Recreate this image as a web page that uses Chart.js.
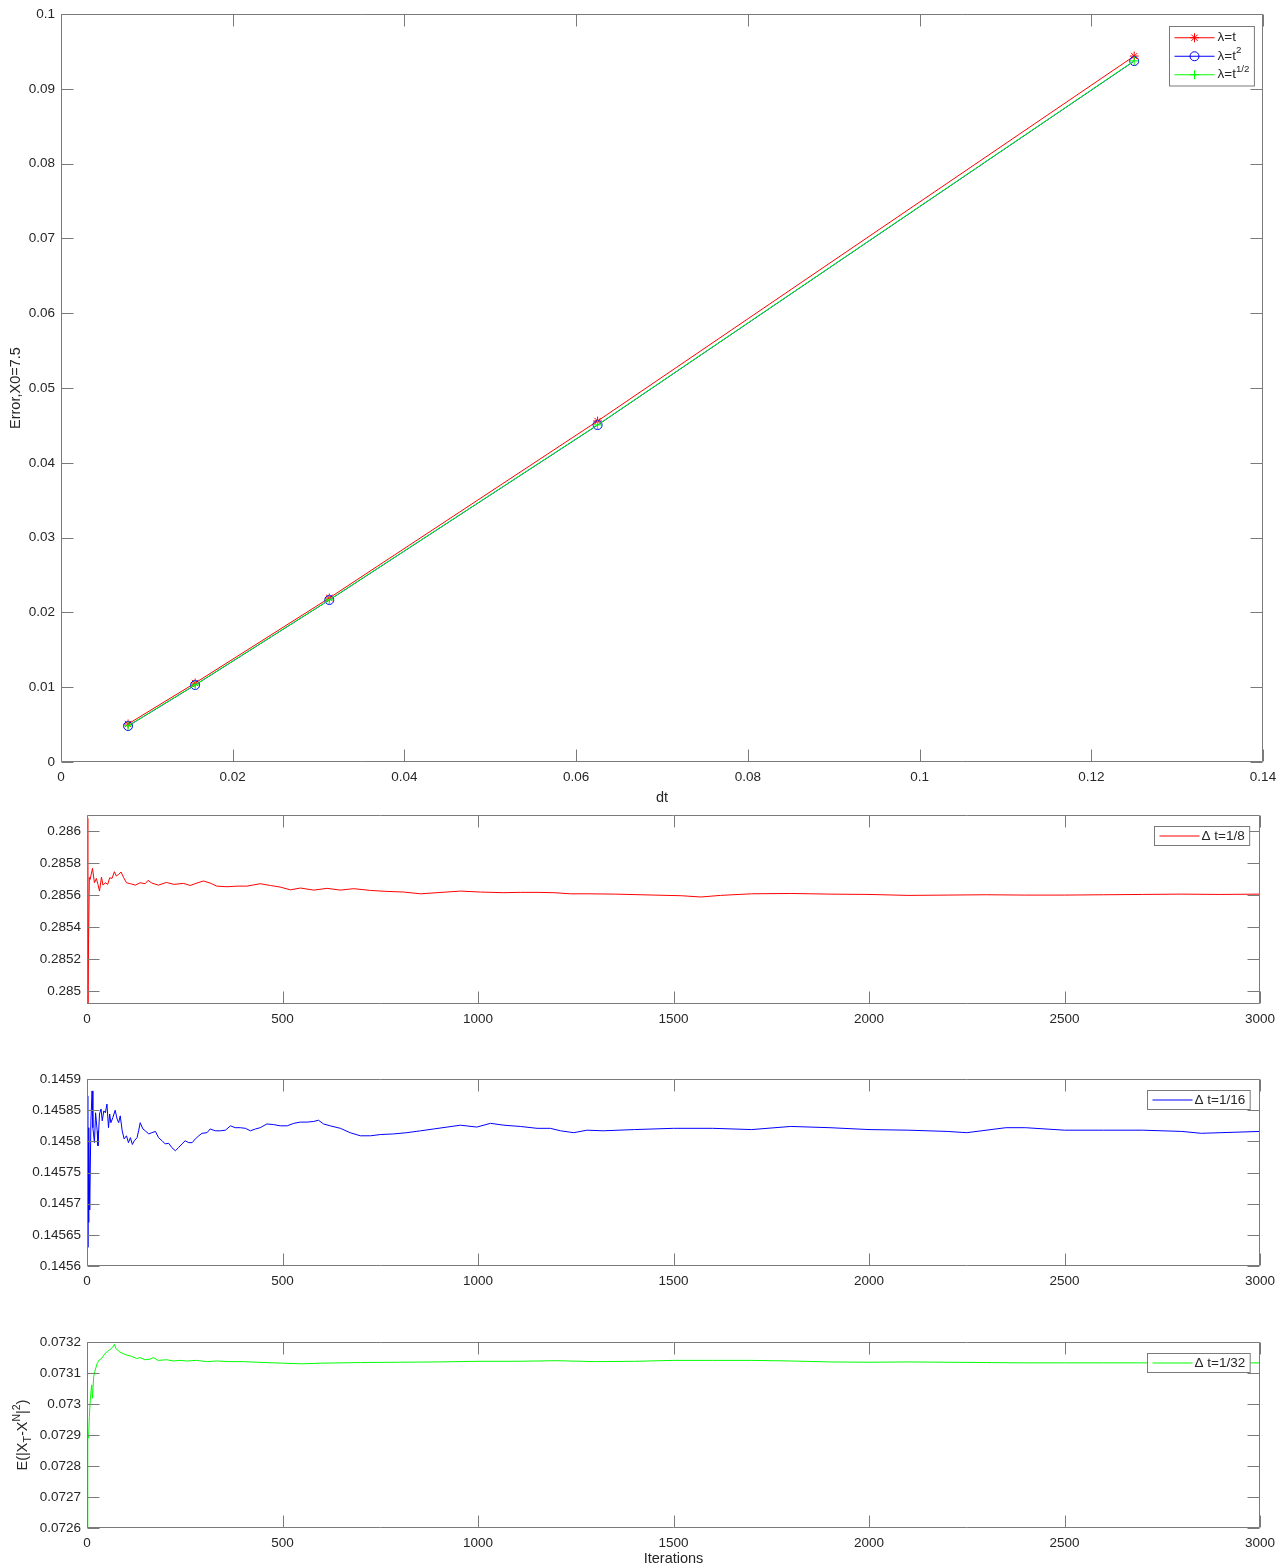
<!DOCTYPE html>
<html>
<head>
<meta charset="utf-8">
<script src="https://cdn.jsdelivr.net/npm/chart.js@4.4.0/dist/chart.umd.min.js"></script>
<style>
  body { margin: 0; background: #fff; width: 1288px; height: 1568px; position: relative; overflow: hidden; }
  canvas { position: absolute; left: 0; }
</style>
</head>
<body>
<canvas id="errChart" width="1288" height="812" style="top:0px"></canvas>
<canvas id="run8" width="1288" height="230" style="top:800px"></canvas>
<canvas id="run16" width="1288" height="230" style="top:1065px"></canvas>
<canvas id="run32" width="1288" height="240" style="top:1328px"></canvas>
<script>
// ---- top chart: error vs dt ----
const dtValues = [0.0078125, 0.015625, 0.03125, 0.0625, 0.125];
const errLinear = [0.00508, 0.01056, 0.02193, 0.04559, 0.09439];   // lambda = t
const errSquare = [0.00481, 0.01029, 0.02166, 0.04505, 0.09372];   // lambda = t^2
const errSqrt   = [0.00483, 0.01031, 0.02168, 0.04508, 0.09375];   // lambda = t^(1/2)
const dtTicks = [0, 0.02, 0.04, 0.06, 0.08, 0.1, 0.12, 0.14];
const dtTickLabels = ['0', '0.02', '0.04', '0.06', '0.08', '0.1', '0.12', '0.14'];
const errTicks = [0, 0.01, 0.02, 0.03, 0.04, 0.05, 0.06, 0.07, 0.08, 0.09, 0.1];
const errTickLabels = ['0', '0.01', '0.02', '0.03', '0.04', '0.05', '0.06', '0.07', '0.08', '0.09', '0.1'];

// ---- running estimates, dt = 1/8 ----
const iter8 = [1, 2, 4, 6, 8, 14, 19, 24, 28, 32, 37, 41, 47, 53, 58, 64, 70, 75, 81, 87, 94, 101,
  111, 124, 136, 149, 156, 166, 183, 203, 222, 247, 264, 281, 298, 315, 332, 358, 384, 409, 443,
  469, 494, 520, 546, 580, 614, 648, 682, 725, 767, 810, 853, 895, 955, 1006, 1066, 1108, 1151,
  1194, 1236, 1279, 1350, 1450, 1520, 1570, 1620, 1700, 1800, 1900, 2000, 2100, 2200, 2300, 2400,
  2500, 2600, 2700, 2800, 2900, 3000];
const err8 = [0.28608, 0.28485, 0.28533, 0.28571, 0.285698, 0.285767, 0.285677, 0.285704, 0.285667,
  0.285625, 0.285712, 0.285662, 0.285677, 0.285667, 0.285708, 0.285704, 0.285746, 0.285719, 0.285729,
  0.285744, 0.285708, 0.285677, 0.285671, 0.285662, 0.285677, 0.285671, 0.285692, 0.285675, 0.285662,
  0.285679, 0.285667, 0.285673, 0.28566, 0.285675, 0.285688, 0.285675, 0.285656, 0.285652, 0.285656,
  0.285656, 0.285671, 0.28566, 0.28565, 0.285633, 0.285644, 0.285631, 0.285642, 0.285631, 0.28564,
  0.285629, 0.285623, 0.285619, 0.285608, 0.285615, 0.285625, 0.285619, 0.285615, 0.285617, 0.285617,
  0.285615, 0.285608, 0.285608, 0.285606, 0.2856, 0.285596, 0.285588, 0.285598, 0.285608, 0.28561,
  0.285606, 0.285604, 0.285598, 0.2856, 0.285602, 0.2856, 0.2856, 0.285602, 0.285604, 0.285606,
  0.285604, 0.285606];
const ticks8 = [0.285, 0.2852, 0.2854, 0.2856, 0.2858, 0.286];
const tickLabels8 = ['0.285', '0.2852', '0.2854', '0.2856', '0.2858', '0.286'];

// ---- running estimates, dt = 1/16 ----
const iter16 = [1, 2, 3, 4, 5, 7, 10, 13, 15, 19, 22, 26, 28, 32, 36, 39, 43, 47, 51, 55, 58, 61, 66,
  72, 77, 81, 85, 90, 95, 101, 106, 111, 116, 121, 128, 132, 136, 143, 149, 158, 166, 175, 183, 192,
  200, 209, 217, 226, 234, 243, 251, 260, 269, 277, 286, 294, 307, 315, 328, 341, 354, 367, 379, 392,
  405, 418, 431, 443, 460, 477, 494, 512, 529, 546, 563, 580, 592, 605, 622, 648, 673, 699, 725, 750,
  784, 818, 853, 887, 921, 955, 997, 1032, 1066, 1108, 1151, 1185, 1211, 1245, 1279, 1320, 1400,
  1500, 1600, 1700, 1800, 1900, 2000, 2100, 2200, 2250, 2350, 2400, 2500, 2600, 2700, 2800, 2850,
  2900, 3000];
const err16 = [0.145873, 0.14563, 0.1458, 0.14567, 0.145822, 0.14569, 0.145833, 0.145881, 0.145822,
  0.145798, 0.145846, 0.145817, 0.145793, 0.145844, 0.145852, 0.145833, 0.145849, 0.145846, 0.14586,
  0.145822, 0.145844, 0.14583, 0.145838, 0.14585, 0.145836, 0.14583, 0.145841, 0.145817, 0.145804,
  0.145809, 0.145798, 0.145806, 0.145795, 0.145801, 0.145806, 0.145817, 0.14583, 0.14582, 0.145817,
  0.145812, 0.145814, 0.145816, 0.145806, 0.145801, 0.145796, 0.145797, 0.14579, 0.145785, 0.14579,
  0.145796, 0.145801, 0.145798, 0.145798, 0.145804, 0.145809, 0.145813, 0.145814, 0.14582, 0.145817,
  0.145817, 0.145818, 0.145825, 0.145822, 0.145822, 0.145821, 0.145817, 0.14582, 0.145822, 0.145828,
  0.145827, 0.145825, 0.145825, 0.145829, 0.145831, 0.145831, 0.145832, 0.145834, 0.145828, 0.145825,
  0.145821, 0.145814, 0.145809, 0.145809, 0.145811, 0.145812, 0.145814, 0.145817, 0.14582, 0.145823,
  0.145826, 0.145823, 0.145829, 0.145826, 0.145824, 0.145821, 0.145821, 0.145817, 0.145814, 0.145818,
  0.145817, 0.145819, 0.145821, 0.145821, 0.145819, 0.145824, 0.145822, 0.145819, 0.145818, 0.145816,
  0.145814, 0.145822, 0.145822, 0.145818, 0.145818, 0.145818, 0.145816, 0.145813, 0.145814, 0.145816];
const ticks16 = [0.1456, 0.14565, 0.1457, 0.14575, 0.1458, 0.14585, 0.1459];
const tickLabels16 = ['0.1456', '0.14565', '0.1457', '0.14575', '0.1458', '0.14585', '0.1459'];

// ---- running estimates, dt = 1/32 ----
const iter32 = [1, 2, 4, 6, 9, 12, 14, 17, 21, 26, 31, 37, 43, 50, 59, 66, 70, 74, 84, 97, 114, 127,
  136, 148, 161, 170, 182, 204, 221, 238, 255, 280, 306, 332, 366, 400, 434, 500, 550, 600, 700, 800,
  900, 1000, 1100, 1200, 1300, 1400, 1500, 1600, 1700, 1800, 1900, 2000, 2100, 2200, 2300, 2400,
  2500, 2600, 2700, 2800, 2900, 3000];
const err32 = [0.07258, 0.0729, 0.07289, 0.07296, 0.073025, 0.073062, 0.073019, 0.073088, 0.07311,
  0.073131, 0.073142, 0.073147, 0.073158, 0.073168, 0.073176, 0.073184, 0.073193, 0.073179, 0.073168,
  0.07316, 0.073154, 0.073147, 0.07315, 0.073143, 0.073145, 0.07315, 0.073141, 0.073143, 0.073139,
  0.073141, 0.073139, 0.073141, 0.073137, 0.073139, 0.073137, 0.073137, 0.073135, 0.073132, 0.07313,
  0.073132, 0.073134, 0.073135, 0.073136, 0.073138, 0.073138, 0.07314, 0.073137, 0.073138, 0.073141,
  0.073141, 0.073141, 0.073139, 0.073136, 0.073135, 0.073136, 0.073135, 0.073134, 0.073133, 0.073133,
  0.073133, 0.073133, 0.073133, 0.073133, 0.073133];
const ticks32 = [0.0726, 0.0727, 0.0728, 0.0729, 0.073, 0.0731, 0.0732];
const tickLabels32 = ['0.0726', '0.0727', '0.0728', '0.0729', '0.073', '0.0731', '0.0732'];

const iterTicks = [0, 500, 1000, 1500, 2000, 2500, 3000];
const iterTickLabels = ['0', '500', '1000', '1500', '2000', '2500', '3000'];

const FONT = '"Liberation Sans", Arial, Helvetica, sans-serif';
const TEXT = '#262626';
const FRAME = '#7a7a7a';
Chart.defaults.font.family = FONT;
Chart.defaults.font.size = 13.5;
Chart.defaults.color = TEXT;
Chart.defaults.animation = false;

// text with sub/superscripts: parts = [[text, 'sup'|'sub'|undefined], ...]
function richWidth(ctx, parts, size) {
  let w = 0;
  parts.forEach(p => {
    ctx.font = (p[1] ? size * 0.72 : size) + 'px ' + FONT;
    w += ctx.measureText(p[0]).width;
  });
  return w;
}
function drawRich(ctx, parts, x, y, size) {
  ctx.textBaseline = 'middle';
  ctx.textAlign = 'left';
  parts.forEach(p => {
    const s = p[1] ? size * 0.72 : size;
    const dy = p[1] === 'sup' ? -size * 0.42 : (p[1] === 'sub' ? size * 0.32 : 0);
    ctx.font = s + 'px ' + FONT;
    ctx.fillText(p[0], x, y + dy);
    x += ctx.measureText(p[0]).width;
  });
}

function drawMarker(ctx, style, x, y, r, color) {
  ctx.save();
  ctx.strokeStyle = color;
  ctx.lineWidth = 1;
  ctx.beginPath();
  if (style === 'circle') {
    ctx.arc(x, y, r, 0, Math.PI * 2);
  } else if (style === 'cross') {
    ctx.moveTo(x - r, y); ctx.lineTo(x + r, y);
    ctx.moveTo(x, y - r); ctx.lineTo(x, y + r);
  } else {
    for (let k = 0; k < 4; k++) {
      const a = k * Math.PI / 4;
      ctx.moveTo(x - r * Math.cos(a), y - r * Math.sin(a));
      ctx.lineTo(x + r * Math.cos(a), y + r * Math.sin(a));
    }
  }
  ctx.stroke();
  ctx.restore();
}

// box around the plot with inward ticks on all four sides
const matlabAxes = {
  id: 'matlabAxes',
  afterDraw(chart, args, opts) {
    const { ctx, chartArea: a, scales } = chart;
    const L = Math.round(a.left) + 0.5, R = Math.round(a.right) - 0.5;
    const T = Math.round(a.top) + 0.5, B = Math.round(a.bottom) - 0.5;
    const len = 12;
    ctx.save();
    ctx.strokeStyle = FRAME;
    ctx.lineWidth = 1;
    ctx.beginPath();
    ctx.rect(L, T, R - L, B - T);
    scales.x.ticks.forEach(t => {
      const px = Math.round(scales.x.getPixelForValue(t.value)) + 0.5;
      ctx.moveTo(px, B); ctx.lineTo(px, B - len);
      ctx.moveTo(px, T); ctx.lineTo(px, T + len);
    });
    scales.y.ticks.forEach(t => {
      const py = Math.round(scales.y.getPixelForValue(t.value)) + 0.5;
      ctx.moveTo(L, py); ctx.lineTo(L + len, py);
      ctx.moveTo(R, py); ctx.lineTo(R - len, py);
    });
    ctx.stroke();

    // legend
    if (opts.legend) {
      const lg = opts.legend;
      const size = 13.5;
      let maxW = 0;
      lg.items.forEach(it => { maxW = Math.max(maxW, richWidth(ctx, it.label, size)); });
      const w = lg.textX + maxW + 5;
      const h = lg.rowH * lg.items.length + lg.padY * 2;
      const bx = Math.round(R - lg.right - w) + 0.5, by = Math.round(T + lg.top) + 0.5;
      ctx.fillStyle = '#fff';
      ctx.fillRect(bx, by, w, h);
      ctx.strokeStyle = FRAME;
      ctx.strokeRect(bx, by, w, h);
      lg.items.forEach((it, i) => {
        const yy = by + lg.padY + lg.rowH * (i + 0.5);
        ctx.strokeStyle = it.color;
        ctx.beginPath();
        ctx.moveTo(bx + 5, yy); ctx.lineTo(bx + 5 + lg.lineW, yy);
        ctx.stroke();
        if (it.marker) drawMarker(ctx, it.marker, bx + 5 + lg.lineW / 2, yy, 4.5, it.color);
        ctx.fillStyle = TEXT;
        drawRich(ctx, it.label, bx + lg.textX, yy, size);
      });
    }

    // y title with sub/superscripts
    if (opts.yTitle) {
      const size = 14.5;
      const w = richWidth(ctx, opts.yTitle, size);
      ctx.save();
      ctx.translate(opts.yTitleX, (a.top + a.bottom) / 2);
      ctx.rotate(-Math.PI / 2);
      ctx.fillStyle = TEXT;
      drawRich(ctx, opts.yTitle, -w / 2, 0, size);
      ctx.restore();
    }
    ctx.restore();
  }
};

function fixedTicks(values, labels, pad) {
  return {
    afterBuildTicks: scale => { scale.ticks = values.map(v => ({ value: v })); },
    ticks: { autoSkip: false, maxRotation: 0, padding: pad, callback: (v, i) => labels[i] }
  };
}

// top chart
new Chart(document.getElementById('errChart').getContext('2d'), {
  type: 'line',
  data: {
    datasets: [
      {
        label: 'λ=t',
        data: dtValues.map((d, i) => ({ x: d, y: errLinear[i] })),
        borderColor: '#ff0000', borderWidth: 1, pointStyle: 'star', pointRadius: 4.5,
        pointBorderColor: '#ff0000', pointBackgroundColor: 'transparent', order: 2
      },
      {
        label: 'λ=t²',
        data: dtValues.map((d, i) => ({ x: d, y: errSquare[i] })),
        borderColor: '#0000ff', borderWidth: 1, pointStyle: 'circle', pointRadius: 4.5,
        pointBorderColor: '#0000ff', pointBackgroundColor: 'transparent', order: 1
      },
      {
        label: 'λ=t^(1/2)',
        data: dtValues.map((d, i) => ({ x: d, y: errSqrt[i] })),
        borderColor: '#00ff00', borderWidth: 1, pointStyle: 'cross', pointRadius: 4.5,
        pointBorderColor: '#00ff00', pointBackgroundColor: 'transparent', order: 0
      }
    ]
  },
  options: {
    responsive: false,
    layout: { padding: { top: 14, right: 25, left: 0, bottom: 0 } },
    plugins: {
      legend: { display: false },
      tooltip: { enabled: false },
      matlabAxes: {
        legend: {
          right: 9, top: 11, rowH: 18.5, padY: 2, lineW: 40, textX: 48,
          items: [
            { color: '#ff0000', marker: 'star', label: [['λ=t']] },
            { color: '#0000ff', marker: 'circle', label: [['λ=t'], ['2', 'sup']] },
            { color: '#00ff00', marker: 'cross', label: [['λ=t'], ['1/2', 'sup']] }
          ]
        }
      }
    },
    scales: {
      x: {
        type: 'linear', min: 0, max: 0.14,
        grid: { display: false, drawTicks: false }, border: { display: false },
        ...fixedTicks(dtTicks, dtTickLabels, 7),
        afterFit: s => { s.height = 50; },
        title: { display: true, text: 'dt', font: { size: 14.5 }, padding: { top: 0, bottom: 5 } }
      },
      y: {
        type: 'linear', min: 0, max: 0.1,
        grid: { display: false, drawTicks: false }, border: { display: false },
        ...fixedTicks(errTicks, errTickLabels, 6),
        afterFit: s => { s.width = 61; },
        title: { display: true, text: 'Error,X0=7.5', font: { size: 14.5 }, padding: { top: 7, bottom: 0 } }
      }
    }
  },
  plugins: [matlabAxes]
});

// lower panels
function runPanel(id, iters, vals, color, yMin, yMax, yTicks, yLabels, legendText, extra) {
  const xAxis = {
    type: 'linear', min: 0, max: 3000,
    grid: { display: false, drawTicks: false }, border: { display: false },
    ...fixedTicks(iterTicks, iterTickLabels, 7),
    afterFit: s => { s.height = extra.xHeight; }
  };
  if (extra.xTitle) {
    xAxis.title = { display: true, text: extra.xTitle, font: { size: 14.5 }, padding: { top: 0, bottom: 0 } };
  }
  const yAxis = {
    type: 'linear', min: yMin, max: yMax,
    grid: { display: false, drawTicks: false }, border: { display: false },
    ...fixedTicks(yTicks, yLabels, 6),
    afterFit: s => { s.width = 87; }
  };
  new Chart(document.getElementById(id).getContext('2d'), {
    type: 'line',
    data: {
      datasets: [{
        label: legendText,
        data: iters.map((it, i) => ({ x: it, y: vals[i] })),
        borderColor: color, borderWidth: 1, pointRadius: 0, tension: 0
      }]
    },
    options: {
      responsive: false,
      layout: { padding: { top: extra.top, right: 28, left: 0, bottom: 0 } },
      plugins: {
        legend: { display: false },
        tooltip: { enabled: false },
        matlabAxes: {
          legend: {
            right: 10, top: 10, rowH: 19, padY: 0, lineW: 40, textX: 47,
            items: [{ color: color, label: [[legendText]] }]
          },
          yTitle: extra.yTitle,
          yTitleX: 23
        }
      },
      scales: { x: xAxis, y: yAxis }
    },
    plugins: [matlabAxes]
  });
}

runPanel('run8', iter8, err8, '#ff0000', 0.28492, 0.2861, ticks8, tickLabels8, 'Δ t=1/8',
  { top: 15, xHeight: 26 });
runPanel('run16', iter16, err16, '#0000ff', 0.1456, 0.1459, ticks16, tickLabels16, 'Δ t=1/16',
  { top: 13, xHeight: 29 });
runPanel('run32', iter32, err32, '#00ff00', 0.0726, 0.0732, ticks32, tickLabels32, 'Δ t=1/32',
  { top: 12, xHeight: 40, xTitle: 'Iterations',
    yTitle: [['E(|X'], ['T', 'sub'], ['-X'], ['N', 'sup'], ['|'], ['2', 'sup'], [')']] });
</script>
</body>
</html>
